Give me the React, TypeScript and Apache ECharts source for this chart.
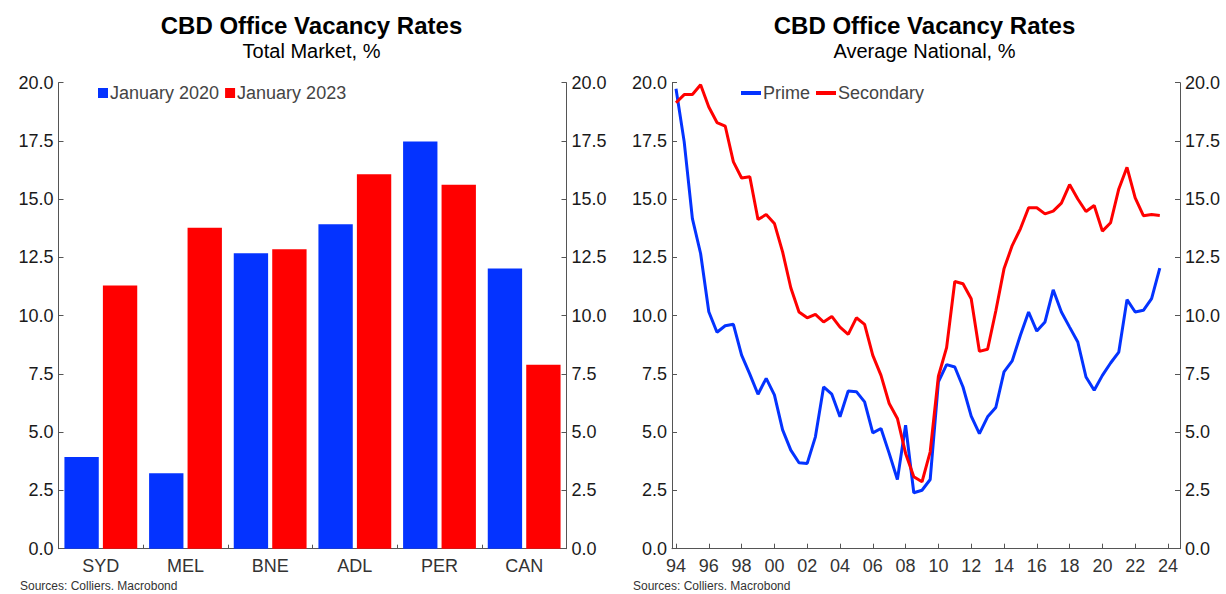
import React, { useEffect, useRef } from "react";
import * as echarts from "echarts";

const FONT = "'Liberation Sans', Arial, sans-serif";

// Left chart: CBD vacancy by city, %
const cities = ["SYD", "MEL", "BNE", "ADL", "PER", "CAN"];
const jan2020 = [3.94, 3.24, 12.68, 13.93, 17.48, 12.03];
const jan2023 = [11.3, 13.77, 12.85, 16.07, 15.62, 7.9];

// Right chart: average national vacancy, semi-annual from Jan 1994
const primeRate = [
  19.74, 17.46, 14.17, 12.67, 10.17, 9.29, 9.57, 9.63, 8.31, 7.49,
  6.63, 7.31, 6.6, 5.1, 4.23, 3.69, 3.66, 4.8, 6.94, 6.63,
  5.66, 6.77, 6.74, 6.3, 4.97, 5.16, 4.09, 2.97, 5.3, 2.4,
  2.51, 2.97, 7.16, 7.9, 7.8, 6.94, 5.69, 4.94, 5.66, 6.06,
  7.59, 8.06, 9.16, 10.16, 9.34, 9.73, 11.11, 10.16, 9.51, 8.87,
  7.37, 6.8, 7.44, 7.97, 8.44, 10.69, 10.16, 10.23, 10.73, 12.04,
];
const secondaryRate = [
  19.14, 19.49, 19.49, 19.91, 18.96, 18.29, 18.14, 16.6, 15.91, 15.96,
  14.13, 14.34, 13.96, 12.74, 11.2, 10.16, 9.91, 10.06, 9.73, 9.97,
  9.51, 9.2, 9.91, 9.63, 8.3, 7.44, 6.23, 5.59, 4.09, 3.09,
  2.87, 4.16, 7.4, 8.63, 11.47, 11.37, 10.73, 8.47, 8.56, 10.2,
  12.01, 13.01, 13.73, 14.63, 14.63, 14.37, 14.49, 14.83, 15.63, 15.01,
  14.47, 14.73, 13.63, 13.99, 15.44, 16.37, 15.06, 14.29, 14.34, 14.3,
];
// period of each observation in decimal years (January and July)
const periods: number[] = [];
for (let y = 1994; y <= 2023; y++) {
  periods.push(y, y + 0.5);
}
const yearTicks = [1994, 1996, 1998, 2000, 2002, 2004, 2006, 2008, 2010, 2012, 2014, 2016, 2018, 2020, 2022, 2024];

const BLUE = "#0433ff";
const RED = "#ff0000";
const AXIS = "#555";

function yAxisDef(gridIndex: number, position: "left" | "right") {
  return {
    type: "value",
    gridIndex,
    position,
    min: 0,
    max: 20,
    interval: 2.5,
    axisLine: { show: true, lineStyle: { color: AXIS, width: 1 } },
    axisTick: { show: true, inside: true, length: 5, lineStyle: { color: AXIS } },
    splitLine: { show: false },
    axisLabel: {
      margin: 5,
      color: "#1a1a1a",
      fontFamily: FONT,
      fontSize: 18,
      formatter: (v: number) => v.toFixed(1),
    },
  };
}

export default function App() {
  const ref = useRef<HTMLDivElement>(null);

  useEffect(() => {
    if (!ref.current) return;
    const chart = echarts.init(ref.current, undefined, { renderer: "svg" });
    const titleText = (x: number, title: string, sub: string) => [
      {
        type: "text",
        x,
        y: 25,
        style: {
          text: title,
          fill: "#000",
          font: `bold 24px ${FONT}`,
          textAlign: "center",
          textVerticalAlign: "middle",
        },
      },
      {
        type: "text",
        x,
        y: 51,
        style: {
          text: sub,
          fill: "#000",
          font: `20px ${FONT}`,
          textAlign: "center",
          textVerticalAlign: "middle",
        },
      },
    ];
    const sourceText = (x: number) => ({
      type: "text",
      x,
      y: 586,
      style: {
        text: "Sources: Colliers. Macrobond",
        fill: "#333",
        font: `12px ${FONT}`,
        textAlign: "left",
        textVerticalAlign: "middle",
      },
    });

    const pairs = (vals: number[]) => vals.map((v, i) => [periods[i], v]);

    chart.setOption({
      animation: false,
      backgroundColor: "#fff",
      textStyle: { fontFamily: FONT },
      graphic: [
        ...titleText(311.5, "CBD Office Vacancy Rates", "Total Market, %"),
        ...titleText(924.5, "CBD Office Vacancy Rates", "Average National, %"),
        sourceText(20),
        sourceText(633),
      ],
      legend: [
        {
          data: ["January 2020", "January 2023"],
          left: 93,
          top: 79,
          icon: "rect",
          itemWidth: 10,
          itemHeight: 10,
          itemGap: 6,
          textStyle: { color: "#444", fontSize: 18, fontFamily: FONT, padding: [0, 0, 0, -3] },
        },
        {
          data: ["Prime", "Secondary"],
          left: 736,
          top: 79,
          icon: "rect",
          itemWidth: 20,
          itemHeight: 4,
          itemGap: 6,
          textStyle: { color: "#444", fontSize: 18, fontFamily: FONT, padding: [0, 0, 0, -3] },
        },
      ],
      grid: [
        { left: 58.5, top: 82.7, width: 508, height: 466 },
        { left: 672, top: 82.7, width: 508, height: 466 },
      ],
      xAxis: [
        {
          type: "category",
          gridIndex: 0,
          data: cities,
          axisLine: { show: true, lineStyle: { color: AXIS, width: 1 } },
          axisTick: { show: true, inside: true, length: 4, lineStyle: { color: AXIS } },
          axisLabel: { margin: 8, color: "#333", fontSize: 18, fontFamily: FONT },
        },
        {
          type: "value",
          gridIndex: 1,
          min: 1993.756,
          max: 2024.732,
          splitLine: { show: false },
          axisLine: { show: true, onZero: false, lineStyle: { color: AXIS, width: 1 } },
          axisTick: { show: true, inside: true, length: 5, customValues: yearTicks, lineStyle: { color: AXIS } },
          axisLabel: {
            margin: 8,
            color: "#333",
            fontSize: 18,
            fontFamily: FONT,
            customValues: yearTicks,
            formatter: (v: number) => String(Math.round(v) % 100).padStart(2, "0"),
          },
        },
      ],
      yAxis: [
        yAxisDef(0, "left"),
        yAxisDef(0, "right"),
        yAxisDef(1, "left"),
        yAxisDef(1, "right"),
      ],
      series: [
        {
          name: "January 2020",
          type: "bar",
          xAxisIndex: 0,
          yAxisIndex: 0,
          data: jan2020,
          barCategoryGap: "14%",
          barGap: "12%",
          itemStyle: { color: BLUE },
        },
        {
          name: "January 2023",
          type: "bar",
          xAxisIndex: 0,
          yAxisIndex: 0,
          data: jan2023,
          barCategoryGap: "14%",
          barGap: "12%",
          itemStyle: { color: RED },
        },
        {
          name: "Prime",
          type: "line",
          xAxisIndex: 1,
          yAxisIndex: 2,
          data: pairs(primeRate),
          showSymbol: false,
          lineStyle: { color: BLUE, width: 3 },
          itemStyle: { color: BLUE },
        },
        {
          name: "Secondary",
          type: "line",
          xAxisIndex: 1,
          yAxisIndex: 2,
          data: pairs(secondaryRate),
          showSymbol: false,
          lineStyle: { color: RED, width: 3 },
          itemStyle: { color: RED },
        },
      ],
    });
    return () => chart.dispose();
  }, []);

  return (
    <div
      ref={ref}
      style={{ position: "fixed", left: 0, top: 0, width: 1226, height: 594, background: "#fff" }}
    />
  );
}
